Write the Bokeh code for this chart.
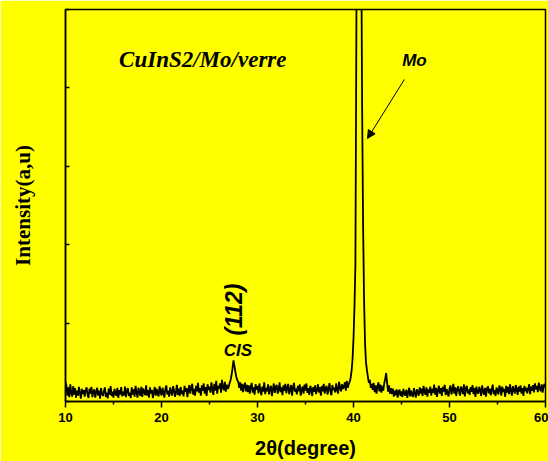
import numpy as np
from bokeh.plotting import figure
from bokeh.models import Range1d, FixedTicker, Label, Arrow, NormalHead
from bokeh.embed import file_html
from bokeh.resources import INLINE

# ---- data (2theta scan 10..60 deg, step 0.1 deg) ----
two_theta = np.round(np.arange(10.0, 60.0001, 0.1), 1)

counts_rows = [
    [100, 80, 30, 72, 22, 88, 45, 25, 78, 35],       # 10
    [68, 20, 55, 30, 75, 42, 15, 65, 38, 58],        # 11
    [25, 60, 72, 35, 18, 66, 40, 75, 22, 50],        # 12
    [62, 20, 48, 70, 30, 55, 14, 68, 40, 28],        # 13
    [52, 72, 24, 45, 16, 66, 35, 78, 28, 50],        # 14
    [20, 64, 42, 30, 70, 18, 58, 36, 74, 26],        # 15
    [50, 30, 76, 22, 55, 68, 28, 45, 18, 72],        # 16
    [35, 62, 25, 80, 45, 20, 70, 48, 28, 75],        # 17
    [24, 66, 48, 32, 82, 30, 58, 20, 72, 40],        # 18
    [60, 18, 46, 74, 30, 65, 40, 26, 78, 50],        # 19
    [30, 70, 44, 20, 64, 82, 36, 55, 25, 72],        # 20
    [50, 30, 78, 60, 24, 46, 85, 34, 66, 28],        # 21
    [74, 38, 56, 26, 80, 48, 68, 22, 60, 84],        # 22
    [40, 72, 90, 35, 64, 30, 80, 52, 95, 45],        # 23
    [68, 30, 82, 55, 92, 40, 74, 28, 88, 58],        # 24
    [76, 45, 98, 62, 34, 90, 55, 105, 40, 80],       # 25
    [66, 92, 45, 110, 72, 58, 100, 50, 86, 64],      # 26
    [75, 95, 110, 135, 170, 210, 180, 150, 125, 108],  # 27  CIS (112)
    [100, 70, 98, 55, 90, 48, 80, 96, 52, 85],       # 28
    [48, 82, 40, 75, 95, 45, 72, 35, 88, 60],        # 29
    [80, 42, 92, 58, 32, 76, 50, 98, 38, 70],        # 30
    [52, 88, 36, 68, 80, 28, 62, 92, 44, 74],        # 31
    [85, 40, 60, 98, 48, 72, 32, 82, 55, 90],        # 32
    [42, 70, 90, 38, 60, 84, 30, 72, 95, 50],        # 33
    [65, 36, 80, 52, 88, 30, 60, 76, 40, 86],        # 34
    [55, 92, 44, 68, 34, 80, 62, 28, 74, 50],        # 35
    [82, 38, 58, 88, 46, 72, 30, 78, 52, 90],        # 36
    [40, 68, 80, 35, 62, 94, 50, 32, 84, 58],        # 37
    [70, 46, 92, 60, 40, 100, 72, 52, 88, 64],       # 38
    [75, 98, 55, 105, 70, 88, 100, 120, 155, 215],   # 39
    [320, 480, 700, 1900, 5200, 11000, 14000, 8000, 2400, 1500],  # 40  Mo
    [900, 520, 300, 200, 160, 125, 95, 110, 70, 90], # 41
    [60, 95, 48, 82, 40, 78, 98, 52, 86, 45],        # 42
    [80, 55, 92, 115, 145, 95, 50, 82, 40, 68],      # 43
    [38, 66, 25, 55, 32, 62, 20, 50, 60, 28],        # 44
    [52, 22, 64, 40, 30, 60, 18, 48, 70, 26],        # 45
    [56, 34, 24, 68, 42, 20, 62, 46, 30, 72],        # 46
    [40, 66, 28, 80, 50, 34, 72, 25, 62, 44],        # 47
    [76, 30, 64, 45, 86, 35, 70, 24, 58, 80],        # 48
    [40, 68, 28, 75, 50, 85, 32, 64, 44, 26],        # 49
    [66, 82, 36, 58, 90, 40, 72, 28, 62, 78],        # 50
    [50, 30, 76, 60, 38, 88, 26, 66, 80, 42],        # 51
    [62, 34, 74, 50, 84, 38, 68, 24, 76, 48],        # 52
    [40, 75, 58, 28, 82, 52, 35, 70, 25, 64],        # 53
    [78, 42, 66, 32, 60, 86, 38, 58, 28, 72],        # 54
    [54, 36, 82, 66, 30, 76, 48, 64, 24, 80],        # 55
    [45, 74, 38, 88, 56, 30, 78, 60, 40, 84],        # 56
    [62, 34, 76, 50, 82, 40, 68, 28, 80, 52],        # 57
    [70, 42, 64, 88, 38, 76, 55, 84, 46, 92],        # 58
    [62, 80, 48, 96, 66, 52, 88, 45, 78, 90],        # 59
    [70],                                            # 60
]
counts = np.array([v for row in counts_rows for v in row], dtype=float)

x_ticks = [10, 20, 30, 40, 50, 60]
x_minor = [15, 25, 35, 45, 55]
y_ticks = [0, 400, 800, 1200, 1600, 2000]

sample_text = "CuInS2/Mo/verre"
mo_text = "Mo"
cis_text = "CIS"
hkl_text = "(112)"

YELLOW = "#FFFF00"

p = figure(width=548, height=461, output_backend="svg", toolbar_location=None,
           x_range=Range1d(10, 60), y_range=Range1d(0, 2000),
           min_border_left=65, min_border_right=3, min_border_top=9,
           min_border_bottom=60)

p.background_fill_color = YELLOW
p.border_fill_color = YELLOW
p.outline_line_color = "black"
p.outline_line_width = 1.5
p.grid.visible = False

p.line(two_theta, counts, line_color="black", line_width=1.8)

# x axis
xa = p.xaxis[0]
xa.ticker = FixedTicker(ticks=x_ticks, minor_ticks=x_minor)
xa.axis_line_width = 1.5
xa.major_tick_in = 0
xa.major_tick_out = 6
xa.minor_tick_in = 0
xa.minor_tick_out = 3
xa.major_tick_line_width = 1.5
xa.minor_tick_line_width = 1.5
xa.major_label_text_font = "Liberation Sans"
xa.major_label_text_font_style = "bold"
xa.major_label_text_font_size = "13px"
xa.major_label_text_color = "black"
xa.major_label_standoff = 5
xa.axis_label = "2θ(degree)"
xa.axis_label_text_font = "Liberation Sans"
xa.axis_label_text_font_style = "bold"
xa.axis_label_text_font_size = "20px"
xa.axis_label_text_color = "black"
xa.axis_label_standoff = 12

# y axis (ticks only, no tick labels)
ya = p.yaxis[0]
ya.ticker = FixedTicker(ticks=y_ticks, minor_ticks=[])
ya.axis_line_width = 1.5
ya.major_tick_in = 4
ya.major_tick_out = 0
ya.major_tick_line_width = 1.5
ya.minor_tick_line_color = None
ya.major_label_overrides = {float(t): "" for t in y_ticks}
ya.axis_label = "Intensity(a,u)"
ya.axis_label_text_font = "Liberation Serif"
ya.axis_label_text_font_style = "bold"
ya.axis_label_text_font_size = "21px"
ya.axis_label_text_color = "black"
ya.axis_label_standoff = 31

# annotations
p.add_layout(Label(x=24.3, y=1745, text=sample_text, text_font="Liberation Serif",
                   text_font_style="bold italic", text_font_size="23px",
                   text_align="center", text_baseline="alphabetic", text_color="black"))
p.add_layout(Label(x=46.35, y=1740, text=mo_text, text_font="Liberation Sans",
                   text_font_style="bold italic", text_font_size="17px",
                   text_align="center", text_baseline="alphabetic", text_color="black"))
p.add_layout(Arrow(end=NormalHead(size=8, fill_color="black", line_color="black"),
                   x_start=45.3, y_start=1643, x_end=41.46, y_end=1342,
                   line_color="black", line_width=1))
p.add_layout(Label(x=27.97, y=262, text=cis_text, text_font="Liberation Sans",
                   text_font_style="bold italic", text_font_size="17px",
                   text_align="center", text_baseline="alphabetic", text_color="black"))
p.add_layout(Label(x=27.5, y=469, text=hkl_text, text_font="Liberation Sans",
                   text_font_style="bold italic", text_font_size="23px",
                   angle=np.pi / 2, text_align="center", text_baseline="middle",
                   text_color="black"))

open("out.html", "w").write(file_html(p, INLINE))
